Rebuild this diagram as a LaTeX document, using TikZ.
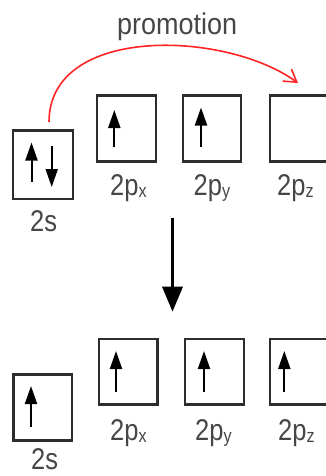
\documentclass[tikz,border=0pt]{standalone}
\usepackage{fontspec}
\usetikzlibrary{arrows.meta}
\newfontfamily\lblfont{Liberation Sans}[FakeStretch=0.85]
\newfontfamily\capfont{Liberation Sans}[FakeStretch=0.9]
\newcommand\orbsub[1]{\raisebox{-2pt}{\fontsize{19}{19}\selectfont #1}}
\definecolor{boxgray}{RGB}{45,45,45}
\definecolor{txtgray}{RGB}{70,70,70}
\definecolor{promored}{RGB}{255,35,35}
\begin{document}
\begin{tikzpicture}[x=1pt,y=-1pt,
  orb/.style={draw=boxgray, line width=2.6pt, minimum width=59pt, minimum height=66pt, inner sep=0pt},
  lbl/.style={font=\lblfont\fontsize{30}{30}\selectfont, text=txtgray, inner sep=0pt, anchor=base west},
  spin/.style={line width=2pt, -{Triangle[width=12pt,length=18pt]}},
  promo/.style={draw=promored, line width=1.6pt, -{Straight Barb[length=12pt,width=15pt,line width=1.6pt]}},
  hybrid/.style={line width=3.5pt, -{Triangle[width=20pt,length=25pt]}}
]
\useasboundingbox (0,0) rectangle (326,476);
\clip (0,0) rectangle (326,476);

% ground state
\node[orb, minimum width=60pt, minimum height=68.5pt] (s1) at (43,164.75) {};
\node[orb] (px1) at (126.5,128.5) {};
\node[orb, minimum width=58pt] (py1) at (212,128.5) {};
\node[orb] (pz1) at (299.5,128.5) {};

\draw[spin] (31.5,182) -- (31.5,142.5);
\draw[spin] (51.7,146) -- (51.7,187);
\draw[spin] (114.3,146.7) -- (114.3,110);
\draw[spin] (201,146.7) -- (201,107.5);

\node[lbl] (ls1) at (30,231.7) {2s};
\node[lbl] (lpx1) at (110,195) {2p\orbsub{x}};
\node[lbl] (lpy1) at (193.5,195) {2p\orbsub{y}};
\node[lbl] (lpz1) at (277,195) {2p\orbsub{z}};

% promotion of one 2s electron
\coordinate (pstart) at (49,122);
\coordinate (pend) at (298,83);
\draw[promo] (pstart) .. controls (49,25) and (225,30) .. (pend);
\node[font=\capfont\fontsize{30}{30}\selectfont, text=txtgray, inner sep=0pt, anchor=base west] (ptext) at (117,34.3) {promotion};

% excited state
\coordinate (hstart) at (172.5,218);
\coordinate (hend) at (172.5,311.7);
\draw[hybrid] (hstart) -- (hend);

\node[orb, minimum width=58.5pt] (s2) at (42.75,407.5) {};
\node[orb, minimum width=58.5pt, minimum height=65.5pt] (px2) at (128.25,371.75) {};
\node[orb, minimum height=65.5pt] (py2) at (214.5,371.75) {};
\node[orb, minimum height=65.5pt] (pz2) at (299.5,371.75) {};

\draw[spin] (31,426.7) -- (31,386);
\draw[spin] (116,391.7) -- (116,351);
\draw[spin] (204,391.7) -- (204,351);
\draw[spin] (284.3,391.7) -- (284.3,351);

\node[lbl] (ls2) at (31,469) {2s};
\node[lbl] (lpx2) at (110,440) {2p\orbsub{x}};
\node[lbl] (lpy2) at (195,440) {2p\orbsub{y}};
\node[lbl] (lpz2) at (278,440) {2p\orbsub{z}};
\end{tikzpicture}
\end{document}
